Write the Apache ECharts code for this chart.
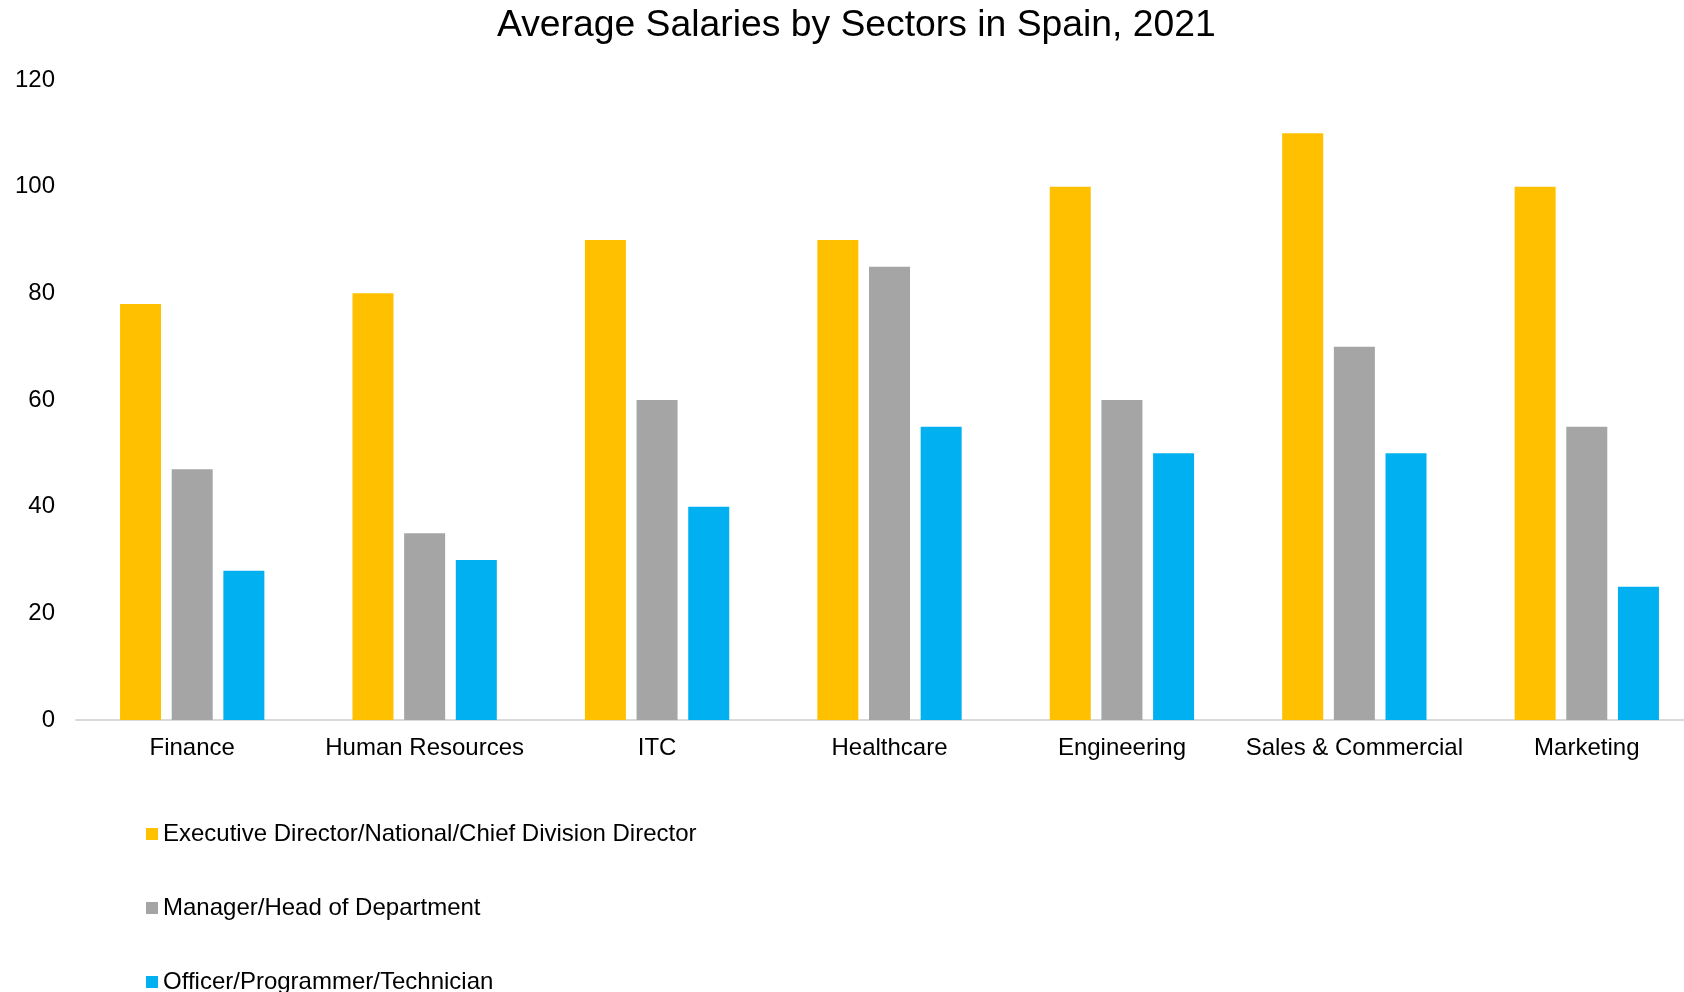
<!DOCTYPE html>
<html>
<head>
<meta charset="utf-8">
<title>Average Salaries by Sectors in Spain, 2021</title>
<script src="https://cdn.jsdelivr.net/npm/echarts@6/dist/echarts.min.js"></script>
<style>
  html, body { margin: 0; padding: 0; background: #ffffff; overflow: hidden; }
  /* the plot runs slightly past the right edge of the page, so the canvas is a bit wider than the window */
  #chart { width: 1703px; height: 992px; }
</style>
</head>
<body>
<div id="chart"></div>
<script>
// Sectors along the x axis
const sectors = ['Finance', 'Human Resources', 'ITC', 'Healthcare', 'Engineering', 'Sales & Commercial', 'Marketing'];

// Average salary (thousand €) per job level
const executiveDirector = [78, 80, 90, 90, 100, 110, 100];
const managerHead = [47, 35, 60, 85, 60, 70, 55];
const officerTechnician = [28, 30, 40, 55, 50, 50, 25];

const seriesNames = [
  'Executive Director/National/Chief Division Director',
  'Manager/Head of Department',
  'Officer/Programmer/Technician'
];
const seriesColors = ['#FFC000', '#A5A5A5', '#00B0F0'];

const FONT = '"Liberation Sans", Arial, sans-serif';

const chart = echarts.init(document.getElementById('chart'), null, { renderer: 'canvas' });

function barSeries(name, values, color) {
  return {
    name: name,
    type: 'bar',
    data: values,
    barWidth: 41,
    barGap: '26%',
    itemStyle: { color: color },
    emphasis: { disabled: true }
  };
}

chart.setOption({
  animation: false,
  backgroundColor: '#ffffff',
  textStyle: { fontFamily: FONT },
  title: {
    text: 'Average Salaries by Sectors in Spain, 2021',
    left: 497,
    top: 7,
    padding: 0,
    textStyle: { fontFamily: FONT, fontSize: 37.3, fontWeight: 'normal', color: '#000000' }
  },
  legend: {
    orient: 'vertical',
    left: 141,
    top: 817,
    height: 200,
    itemWidth: 12,
    itemHeight: 12,
    itemGap: 50,
    icon: 'rect',
    textStyle: { fontFamily: FONT, fontSize: 24, color: '#000000' },
    data: seriesNames
  },
  grid: {
    left: 76,
    top: 80,
    right: 0,
    height: 640,
    containLabel: false
  },
  xAxis: {
    type: 'category',
    data: sectors,
    axisLine: { show: true, lineStyle: { color: '#D9D9D9', width: 2 } },
    axisTick: { show: false },
    axisLabel: { fontFamily: FONT, fontSize: 24, color: '#000000', margin: 16, interval: 0 },
    splitLine: { show: false }
  },
  yAxis: {
    type: 'value',
    min: 0,
    max: 120,
    interval: 20,
    axisLine: { show: false },
    axisTick: { show: false },
    splitLine: { show: false },
    axisLabel: { fontFamily: FONT, fontSize: 24, color: '#000000', margin: 21 }
  },
  series: [
    barSeries(seriesNames[0], executiveDirector, seriesColors[0]),
    barSeries(seriesNames[1], managerHead, seriesColors[1]),
    barSeries(seriesNames[2], officerTechnician, seriesColors[2])
  ]
});
</script>
</body>
</html>
